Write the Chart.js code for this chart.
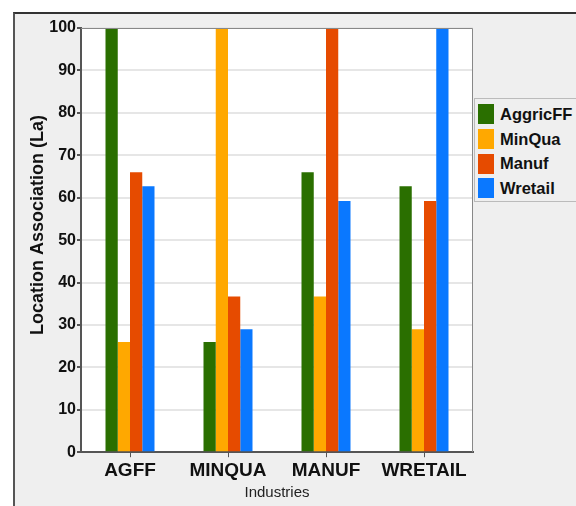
<!DOCTYPE html>
<html>
<head>
<meta charset="utf-8">
<script src="https://cdn.jsdelivr.net/npm/chart.js@4"></script>
<style>
  body { margin: 0; background: #fff; width: 576px; height: 506px; overflow: hidden; position: relative; font-family: "Liberation Sans", Arial, sans-serif; }
  #frame { position: absolute; left: 13px; top: 12px; width: 600px; height: 520px; background: #efefef; border-top: 2px solid #333; border-left: 2px solid #555; }
  #chartBox { position: absolute; left: 0; top: 0; width: 576px; height: 506px; }
  #legend { position: absolute; left: 474px; top: 98px; width: 110px; height: 104px; border: 1px solid #bbb; background: #efefef; padding: 3px 0 0 3px; box-sizing: border-box; }
  .item { height: 24.7px; display: flex; align-items: center; font-weight: bold; font-size: 16.5px; color: #111; }
  .swatch { width: 16px; height: 20px; margin-right: 6px; }
</style>
</head>
<body>
<div id="frame"></div>
<div id="chartBox"><canvas id="industryChart" width="576" height="506"></canvas></div>
<div id="legend"></div>
<script>
const industries = ["AGFF", "MINQUA", "MANUF", "WRETAIL"];
const seriesNames = ["AggricFF", "MinQua", "Manuf", "Wretail"];
const aggricFF = [100, 26, 66, 62.7];
const minQua = [26, 100, 36.7, 29];
const manuf = [66, 36.7, 100, 59.2];
const wretail = [62.7, 29, 59.2, 100];
const yTicks = [0, 10, 20, 30, 40, 50, 60, 70, 80, 90, 100];
const colors = ["#2a6f00", "#ffa800", "#e64b00", "#0a78ff"];
const yTitle = "Location Association (La)";

document.addEventListener("DOMContentLoaded", function () {
    const allSeries = [aggricFF, minQua, manuf, wretail];

    // white plot area, thin outline, and the y title (sits a bit above centre)
    const plotBg = {
        id: "plotBg",
        beforeDraw(chart) {
            const a = chart.chartArea, c = chart.ctx;
            c.save();
            c.fillStyle = "#ffffff";
            c.fillRect(a.left, a.top, a.right - a.left, a.bottom - a.top);
            c.restore();
        },
        afterDraw(chart) {
            const a = chart.chartArea, c = chart.ctx;
            c.save();
            c.strokeStyle = "#888";
            c.lineWidth = 1;
            c.beginPath();
            c.moveTo(a.left, a.top + 0.5);
            c.lineTo(a.right - 0.5, a.top + 0.5);
            c.lineTo(a.right - 0.5, a.bottom);
            c.stroke();

            c.translate(38, 225);
            c.rotate(-Math.PI / 2);
            c.fillStyle = "#111";
            c.font = "bold 18px 'Liberation Sans', Arial, sans-serif";
            c.textAlign = "center";
            c.textBaseline = "middle";
            c.fillText(yTitle, 0, 0);
            c.restore();
        }
    };

    const ctx = document.getElementById("industryChart").getContext("2d");
    new Chart(ctx, {
        type: 'bar',
        data: {
            labels: industries,
            datasets: seriesNames.map(function (name, i) {
                return {
                    label: name,
                    data: allSeries[i],
                    backgroundColor: colors[i],
                    borderWidth: 0,
                    barPercentage: 1,
                    categoryPercentage: 0.5
                };
            })
        },
        options: {
            responsive: false,
            animation: false,
            layout: { padding: { top: 28, right: 103, left: 0, bottom: 4 } },
            plugins: {
                legend: { display: false },
                tooltip: { enabled: false }
            },
            scales: {
                x: {
                    grid: { offset: false, drawOnChartArea: false, tickLength: 5, color: '#555' },
                    border: { color: '#555', width: 2 },
                    ticks: { color: '#111', padding: 2, maxRotation: 0, autoSkip: false, font: { family: 'Liberation Sans', size: 19, weight: 'bold' } },
                    title: { display: true, text: 'Industries', color: '#222', padding: { top: 0, bottom: 0 }, font: { family: 'Liberation Sans', size: 15 } }
                },
                y: {
                    min: 0,
                    max: 100,
                    afterBuildTicks: function (scale) {
                        scale.ticks = yTicks.map(function (v) { return { value: v }; });
                    },
                    afterFit: function (scale) { scale.width = 81; },
                    grid: { color: '#e6e6e6', tickColor: '#555', tickLength: 4, lineWidth: 2 },
                    border: { color: '#555', width: 2 },
                    ticks: { color: '#111', padding: 1, font: { family: 'Liberation Sans', size: 16, weight: 'bold' } }
                }
            }
        },
        plugins: [plotBg]
    });

    const legend = document.getElementById("legend");
    seriesNames.forEach(function (name, i) {
        const row = document.createElement("div");
        row.className = "item";
        const sw = document.createElement("span");
        sw.className = "swatch";
        sw.style.background = colors[i];
        row.appendChild(sw);
        row.appendChild(document.createTextNode(name));
        legend.appendChild(row);
    });
});
</script>
</body>
</html>
